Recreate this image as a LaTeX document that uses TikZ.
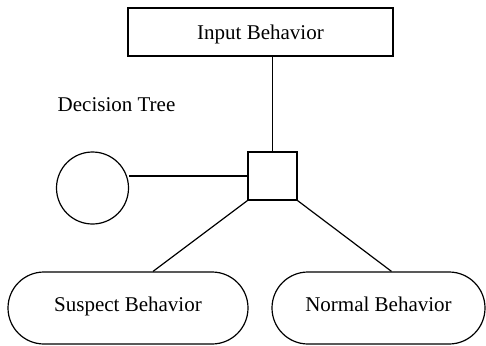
\documentclass[tikz,border=0pt]{standalone}
\usepackage{fontspec}
\setmainfont{Liberation Serif}
\usetikzlibrary{calc}
\begin{document}
\begin{tikzpicture}[x=1pt,y=-1pt,line width=1.2pt,
  every node/.style={font=\fontsize{21}{25}\selectfont, inner sep=0pt},
  boxnode/.style={draw, rectangle},
  pill/.style={draw, rectangle, rounded corners=36pt, minimum width=#1, minimum height=72pt, text height=10pt, text depth=4pt}]
\useasboundingbox (0,0) rectangle (486,345);
\node[boxnode, minimum width=265pt, minimum height=48pt, text height=16pt, text depth=0pt] (in) at (260.5,32) {Input Behavior};
\node[boxnode, minimum width=49pt, minimum height=48pt] (sq) at (272.5,176) {};
\node[draw, circle, minimum size=72pt] (circ) at (92.5,188) {};
\node[anchor=base] (dt) at (116.5,111) {Decision Tree};
\node[pill=240pt] (sus) at (128,308) {Suspect Behavior};
\node[pill=213pt] (nor) at (378.5,308) {Normal Behavior};
\draw (sq.north) -- (sq.north |- in.south);
\draw (sq.west) -- (circ.east |- sq.west);
\draw (sq.south west) -- ([xshift=25pt]sus.north);
\draw (sq.south east) -- ([xshift=13pt]nor.north);
\end{tikzpicture}
\end{document}
